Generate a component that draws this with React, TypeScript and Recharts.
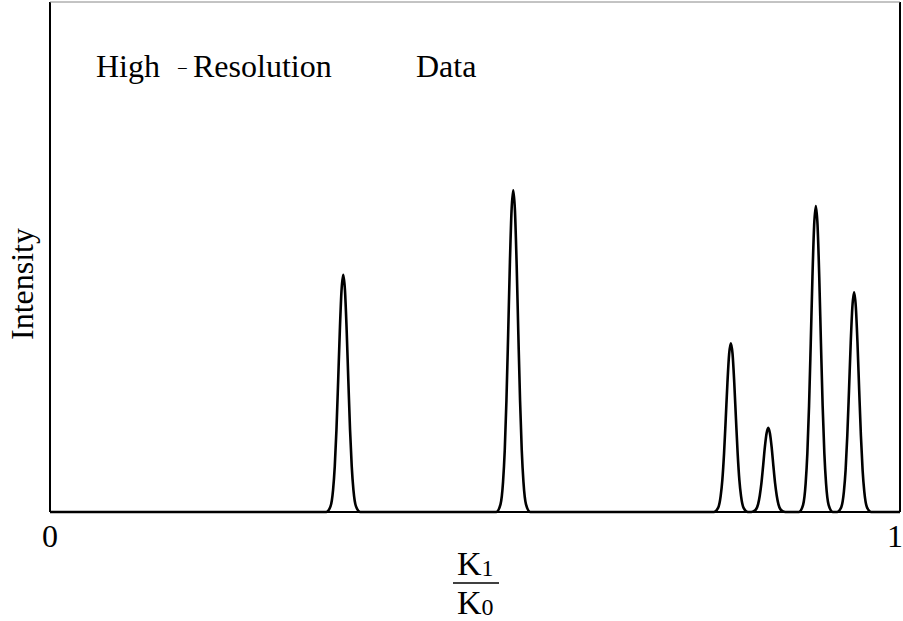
import { LineChart, Line, XAxis, YAxis, ReferenceLine } from "recharts";

// sampled offsets from each peak centre (K1/K0 units)
const sampleOffsets = [-0.02, -0.015, -0.012, -0.01, -0.008, -0.006, -0.004, -0.002, 0, 0.002, 0.004, 0.006, 0.008, 0.01, 0.012, 0.015, 0.02];

const peakCenters = [0.345, 0.545, 0.801, 0.845, 0.901, 0.946];

// intensity read at each offset, one list per peak
const peak1 = [0, 0.011, 0.043, 0.089, 0.161, 0.257, 0.357, 0.435, 0.465, 0.435, 0.357, 0.257, 0.161, 0.089, 0.043, 0.011, 0];
const peak2 = [0, 0.015, 0.059, 0.121, 0.219, 0.348, 0.485, 0.591, 0.631, 0.591, 0.485, 0.348, 0.219, 0.121, 0.059, 0.015, 0];
const peak3 = [0, 0.008, 0.031, 0.063, 0.115, 0.183, 0.254, 0.31, 0.331, 0.31, 0.254, 0.183, 0.115, 0.063, 0.031, 0.008, 0];
const peak4 = [0, 0.004, 0.015, 0.032, 0.057, 0.091, 0.127, 0.154, 0.165, 0.154, 0.127, 0.091, 0.057, 0.032, 0.015, 0.004, 0];
const peak5 = [0, 0.014, 0.056, 0.115, 0.208, 0.331, 0.461, 0.562, 0.6, 0.562, 0.461, 0.331, 0.208, 0.115, 0.056, 0.014, 0];
const peak6 = [0, 0.01, 0.04, 0.082, 0.15, 0.238, 0.331, 0.403, 0.431, 0.403, 0.331, 0.238, 0.15, 0.082, 0.04, 0.01, 0];

const peakProfiles = [peak1, peak2, peak3, peak4, peak5, peak6];
const xTicks = [0, 1];

const data = [
  { k: 0, intensity: 0 },
  ...peakCenters.flatMap((c, i) =>
    sampleOffsets.map((d, j) => ({ k: +(c + d).toFixed(4), intensity: peakProfiles[i][j] }))
  ),
  { k: 1, intensity: 0 },
];

const serif = "Liberation Serif";

export default function App() {
  return (
    <div style={{ position: "absolute", left: 0, top: 0, width: 903, height: 621, background: "#fff" }}>
      <LineChart width={903} height={621} data={data} margin={{ top: 2, right: 3, bottom: 69, left: 50 }}>
        <XAxis
          dataKey="k"
          type="number"
          domain={[0, 1]}
          ticks={xTicks}
          tickLine={false}
          axisLine={{ stroke: "#000", strokeWidth: 2 }}
          height={40}
          tick={{ fill: "#000", fontSize: 32, fontFamily: serif }}
          tickMargin={6}
        />
        <YAxis hide domain={[0, 1]} />
        <ReferenceLine x={0} stroke="#000" strokeWidth={2} />
        <ReferenceLine x={1} stroke="#000" strokeWidth={2} />
        <ReferenceLine y={1} stroke="#888" strokeWidth={1} />
        <Line
          type="monotone"
          dataKey="intensity"
          stroke="#000"
          strokeWidth={2.6}
          dot={false}
          isAnimationActive={false}
        />
      </LineChart>
      <svg width={903} height={621} style={{ position: "absolute", left: 0, top: 0, pointerEvents: "none" }}>
        <g style={{ fontFamily: serif }} fill="#000">
          <text x={96} y={77} fontSize={32}>High</text>
          <text x={177} y={75} fontSize={19}>−</text>
          <text x={193} y={77} fontSize={32}>Resolution</text>
          <text x={416} y={77} fontSize={32}>Data</text>
          <text transform="translate(33,284) rotate(-90)" textAnchor="middle" fontSize={32}>Intensity</text>
          <text x={457} y={575} fontSize={34}>K<tspan fontSize={24} dy={1}>1</tspan></text>
          <line x1={453} x2={499} y1={583} y2={583} stroke="#000" strokeWidth={1.5} />
          <text x={457} y={614} fontSize={34}>K<tspan fontSize={24} dy={1}>0</tspan></text>
        </g>
      </svg>
    </div>
  );
}
